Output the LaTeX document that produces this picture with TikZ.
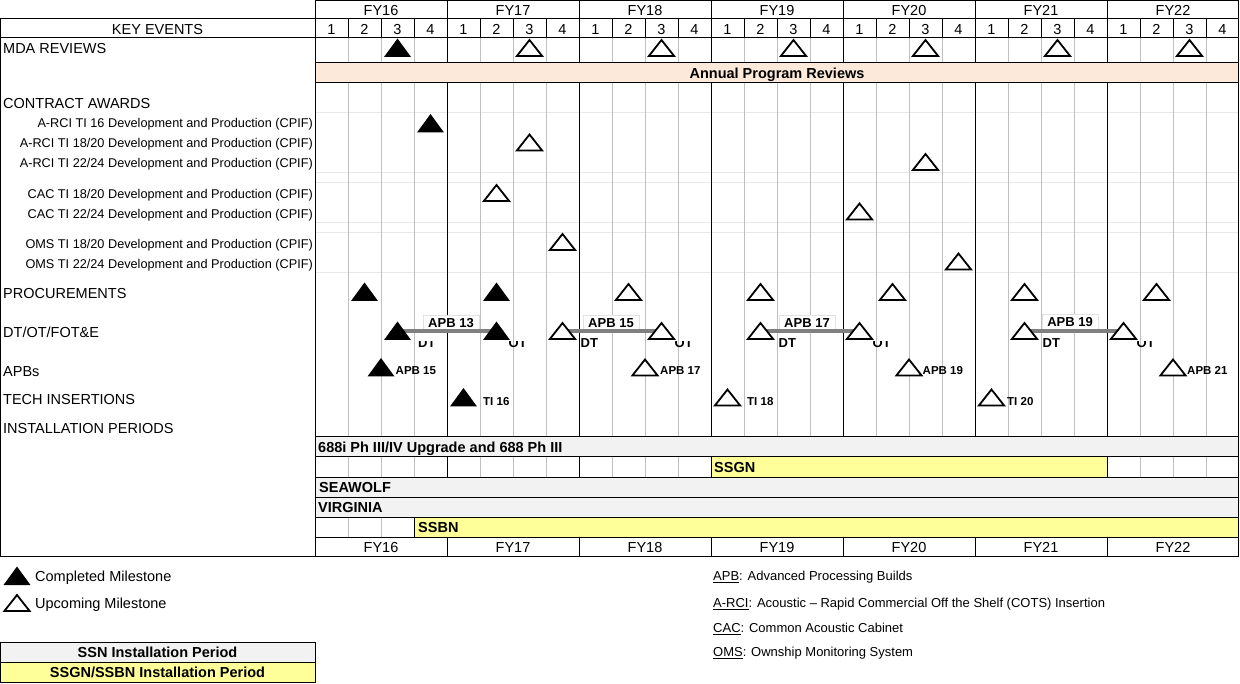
\documentclass[tikz,border=0pt]{standalone}
\usepackage{fontspec}
\setmainfont{Liberation Sans}
\definecolor{peach}{HTML}{FDE9D9}
\definecolor{lgray}{HTML}{F2F2F2}
\definecolor{lyel}{HTML}{FFFF99}
\definecolor{qline}{HTML}{C0C0C0}
\definecolor{faint}{HTML}{E8E8E8}
\definecolor{apbgray}{HTML}{808080}
\definecolor{boxgray}{HTML}{E2E2E2}
\newcommand\DoneTri[1]{\fill[shift={(#1)}] (-13.5,9) -- (0,-9.5) -- (13.5,9) -- cycle;}
\newcommand\TodoTri[1]{\draw[shift={(#1)}, line width=1.8pt, fill=white, line join=miter] (-12.6,8) -- (0,-8) -- (12.6,8) -- cycle;}
\begin{document}
\begin{tikzpicture}[x=1pt,y=-1pt,
  hd/.style={inner sep=0pt, text height=10.4pt, text depth=0pt, font=\fontsize{14.5}{16}\selectfont},
  hdl/.style={hd, anchor=west},
  sub/.style={inner sep=0pt, text height=9.1pt, text depth=0pt, font=\fontsize{12.7}{14}\selectfont, anchor=east},
  bar/.style={inner sep=0pt, text height=10.4pt, text depth=0pt, font=\bfseries\fontsize{14.5}{16}\selectfont},
  apblab/.style={inner sep=0pt, text height=9.3pt, text depth=0pt, font=\bfseries\fontsize{13}{15}\selectfont},
  tilab/.style={inner sep=0pt, text height=8.2pt, text depth=0pt, font=\bfseries\fontsize{11.5}{13}\selectfont, anchor=west},
  defs/.style={inner sep=0pt, text height=9.3pt, text depth=0pt, font=\fontsize{13}{15}\selectfont, anchor=west},
  blk/.style={line width=1pt, black},
  ql/.style={line width=1pt, qline},
  fl/.style={line width=1pt, faint},
  link/.style={line width=4pt, apbgray},
  lbox/.style={draw=boxgray, fill=white, line width=0.8pt, minimum height=15pt, minimum width=56pt}
]
\useasboundingbox (0,0) rectangle (1240,684);
% ---------- fills
\fill[peach] (315,63) rectangle (1239,83);
\fill[lgray] (315,437) rectangle (1239,457);
\fill[lyel] (711,457) rectangle (1107,477);
\fill[lgray] (315,477) rectangle (1239,517);
\fill[lyel] (414,517) rectangle (1239,537);
% ---------- faint row lines
\foreach \y in {113,173,183,223,233,273} \draw[fl] (315,\y) -- (1239,\y);
% ---------- quarter lines
\foreach \f in {0,...,6}{\foreach \q in {1,2,3}{
  \pgfmathsetmacro\xx{315+132*\f+33*\q}
  \draw[blk] (\xx,19) -- (\xx,38);
  \draw[ql] (\xx,38) -- (\xx,63);
  \draw[ql] (\xx,83) -- (\xx,437);
}}
\foreach \f in {0,1,2,6}{\foreach \q in {1,2,3}{
  \pgfmathsetmacro\xx{315+132*\f+33*\q}
  \draw[ql] (\xx,457) -- (\xx,477);
}}
\foreach \xx in {348,381} \draw[ql] (\xx,517) -- (\xx,537);
% ---------- FY lines
\foreach \xx in {447,579,711,843,975,1107}{
  \draw[blk] (\xx,0) -- (\xx,63);
  \draw[blk] (\xx,83) -- (\xx,437);
  \draw[blk] (\xx,537) -- (\xx,556);
}
\foreach \xx in {447,579,711,1107} \draw[blk] (\xx,457) -- (\xx,477);
\draw[blk] (414,517) -- (414,537);
% ---------- borders / horizontal lines
\draw[blk] (315,0) -- (315,556);
\draw[blk] (1238.5,0) -- (1238.5,556);
\draw[blk] (0.5,19) -- (0.5,556);
\draw[blk] (315,0.5) -- (1239,0.5);
\draw[blk] (0,19) -- (1239,19);
\draw[blk] (0,38) -- (1239,38);
\draw[blk] (315,63) -- (1239,63);
\draw[blk] (315,83) -- (1239,83);
\foreach \y in {437,457,477,497,517,537} \draw[blk] (315,\y) -- (1239,\y);
\draw[blk] (0,556) -- (1239,556);
% ---------- header texts
\foreach \n/\c [count=\i from 0] in {16/381,17/513,18/645,19/777,20/909,21/1041,22/1173}{
  \node[hd] (fy\n) at (\c,10) {FY\n};
  \node[hd] (bfy\n) at (\c,547) {FY\n};
  \foreach \q in {1,2,3,4}{
    \node[hd] (q\n\q) at ({315+132*\i+33*(\q-0.5)},29) {\q};
  }
}
\node[hd] (keyev) at (157.5,29) {KEY EVENTS};
% ---------- left labels
\node[hdl] (lmda) at (3,48) {MDA REVIEWS};
\node[hdl] (lca) at (3,103) {CONTRACT AWARDS};
\node[sub] (s1) at (313,123) {A-RCI TI 16 Development and Production (CPIF)};
\node[sub] (s2) at (313,143) {A-RCI TI 18/20 Development and Production (CPIF)};
\node[sub] (s3) at (313,163) {A-RCI TI 22/24 Development and Production (CPIF)};
\node[sub] (s4) at (313,194) {CAC TI 18/20 Development and Production (CPIF)};
\node[sub] (s5) at (313,214) {CAC TI 22/24 Development and Production (CPIF)};
\node[sub] (s6) at (313,244) {OMS TI 18/20 Development and Production (CPIF)};
\node[sub] (s7) at (313,264) {OMS TI 22/24 Development and Production (CPIF)};
\node[hdl] (lpr) at (3,293) {PROCUREMENTS};
\node[hdl] (ldt) at (3,332) {DT/OT/FOT\&E};
\node[hdl] (lapb) at (3,371) {APBs};
\node[hdl] (lti) at (3,399) {TECH INSERTIONS};
\node[hdl] (lin) at (3,428) {INSTALLATION PERIODS};
% ---------- MDA reviews
\coordinate (mda1) at (397.5,48); \DoneTri{mda1}
\foreach \xx [count=\i from 2] in {529.5,661.5,793.5,925.5,1057.5,1189.5}{
  \coordinate (mda\i) at (\xx,48); \TodoTri{mda\i}
}
\node[bar] (apr) at (777,73) {Annual Program Reviews};
% ---------- contract awards
\coordinate (ca1) at (430.5,123.5); \DoneTri{ca1}
\coordinate (ca2) at (529.5,142.5); \TodoTri{ca2}
\coordinate (ca3) at (925.5,162); \TodoTri{ca3}
\coordinate (ca4) at (496.5,193); \TodoTri{ca4}
\coordinate (ca5) at (859.5,211.5); \TodoTri{ca5}
\coordinate (ca6) at (562.5,242); \TodoTri{ca6}
\coordinate (ca7) at (958.5,261.5); \TodoTri{ca7}
% ---------- procurements
\coordinate (pr1) at (364.5,292); \DoneTri{pr1}
\coordinate (pr2) at (496.5,292); \DoneTri{pr2}
\foreach \xx [count=\i from 3] in {628.5,760.5,892.5,1024.5,1156.5}{
  \coordinate (pr\i) at (\xx,292); \TodoTri{pr\i}
}
% ---------- DT/OT
\foreach \xx [count=\i] in {397.5,496.5,562.5,661.5,760.5,859.5,1024.5,1123.5}{
  \coordinate (dt\i) at (\xx,331);
}
\node[apblab, lbox] (apb13) at (451,322.5) {APB 13};
\node[apblab, lbox] (apb15) at (611,322.5) {APB 15};
\node[apblab, lbox] (apb17) at (807,322.5) {APB 17};
\node[apblab, lbox] (apb19) at (1070,322) {APB 19};
\draw[link] (dt1) -- (dt2);
\draw[link] (dt3) -- (dt4);
\draw[link] (dt5) -- (dt6);
\draw[link] (dt7) -- (dt8);
\DoneTri{dt1} \DoneTri{dt2}
\foreach \i in {3,...,8} {\TodoTri{dt\i}}
\node[apblab, anchor=west] (dtl2) at (580.5,343) {DT};
\node[apblab, anchor=west] (dtl3) at (778.5,343) {DT};
\node[apblab, anchor=west] (dtl4) at (1042.5,343) {DT};
\begin{scope}
  \clip (380,341.8) rectangle (1239,360);
  \node[apblab, anchor=west] (dtl1) at (418,343) {DT};
  \node[apblab, anchor=west] (otl1) at (508.5,343) {OT};
  \node[apblab, anchor=west] (otl2) at (674.5,343) {OT};
  \node[apblab, anchor=west] (otl3) at (872.5,343) {OT};
  \node[apblab, anchor=west] (otl4) at (1136.5,343) {OT};
\end{scope}
% ---------- APBs
\coordinate (ap15) at (381,367.5); \DoneTri{ap15}
\coordinate (ap17) at (645,367.5); \TodoTri{ap17}
\coordinate (ap19) at (909,367.5); \TodoTri{ap19}
\coordinate (ap21) at (1173,367.5); \TodoTri{ap21}
\node[tilab] (apl15) at (395.5,370.5) {APB 15};
\node[tilab] (apl17) at (660,370.5) {APB 17};
\node[tilab] (apl19) at (922.5,370.5) {APB 19};
\node[tilab] (apl21) at (1187,370.5) {APB 21};
% ---------- tech insertions
\coordinate (ti16) at (463.5,397.5); \DoneTri{ti16}
\coordinate (ti18) at (727.5,397.5); \TodoTri{ti18}
\coordinate (ti20) at (991.5,397.5); \TodoTri{ti20}
\node[tilab] (til16) at (483,401) {TI 16};
\node[tilab] (til18) at (747,401) {TI 18};
\node[tilab] (til20) at (1007,401) {TI 20};
% ---------- installation bars
\node[bar, anchor=west] (i688) at (318,447) {688i Ph III/IV Upgrade and 688 Ph III};
\node[bar, anchor=west] (ssgn) at (714,467) {SSGN};
\node[bar, anchor=west] (seaw) at (319,487) {SEAWOLF};
\node[bar, anchor=west] (virg) at (318,507) {VIRGINIA};
\node[bar, anchor=west] (ssbn) at (418,527) {SSBN};
% ---------- legend
\coordinate (lg1) at (17,576); \DoneTri{lg1}
\coordinate (lg2) at (17,603); \TodoTri{lg2}
\node[hdl] (lgt1) at (35,576) {Completed Milestone};
\node[hdl] (lgt2) at (35,603) {Upcoming Milestone};
\fill[lgray] (0,642) rectangle (315,662);
\fill[lyel] (0,662) rectangle (315,682);
\draw[blk] (0.5,642) rectangle (315,682.5);
\draw[blk] (0,662) -- (315,662);
\node[bar] (lb1) at (157.5,652) {SSN Installation Period};
\node[bar] (lb2) at (157.5,672) {SSGN/SSBN Installation Period};
% ---------- definitions
\node[defs] (d1) at (713,576) {\underline{APB}: Advanced Processing Builds};
\node[defs] (d2) at (713,603) {\underline{A-RCI}: Acoustic – Rapid Commercial Off the Shelf (COTS) Insertion};
\node[defs] (d3) at (713,628) {\underline{CAC}: Common Acoustic Cabinet};
\node[defs] (d4) at (713,652) {\underline{OMS}: Ownship Monitoring System};
\end{tikzpicture}
\end{document}
